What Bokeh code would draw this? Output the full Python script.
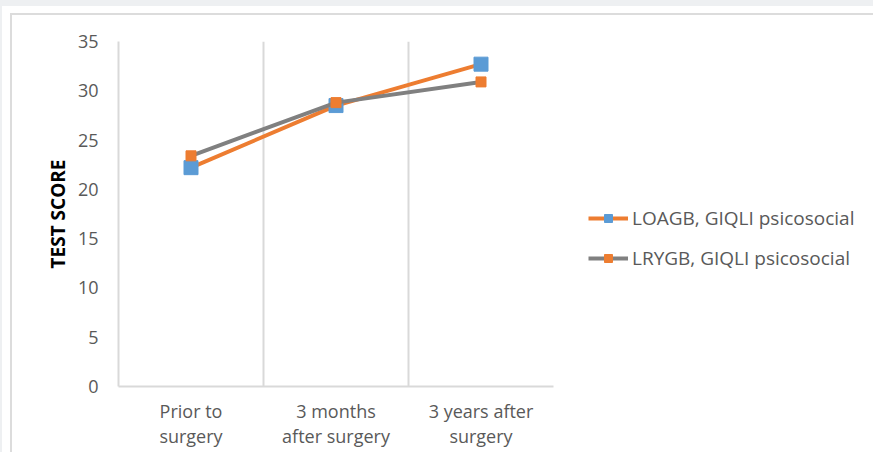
from bokeh.plotting import figure
from bokeh.models import FixedTicker, Legend, LegendItem
from bokeh.layouts import column
from bokeh.embed import file_html
from bokeh.resources import INLINE

# Time points and their wrapped axis labels
categories = ["Prior to surgery", "3 months after surgery", "3 years after surgery"]
tick_labels = ["Prior to\nsurgery", "3 months\nafter surgery", "3 years after\nsurgery"]

# GIQLI psychosocial scores per group
series_names = ["LOAGB, GIQLI psicosocial", "LRYGB, GIQLI psicosocial"]
loagb = [22.2, 28.5, 32.7]
lrygb = [23.4, 28.8, 30.9]

y_ticks = [0, 5, 10, 15, 20, 25, 30, 35]

ORANGE = "#ed7d31"
BLUE = "#5b9bd5"
GRAY = "#808080"
TEXT = "#595959"
RULE = "#d9d9d9"

# each category occupies one unit; points sit in the middle of it
x = [i + 0.5 for i in range(len(categories))]
bounds = list(range(len(categories) + 1))

p = figure(
    frame_width=435, frame_height=345,
    x_range=(0, len(categories)), y_range=(0, 35),
    output_backend="svg", toolbar_location=None,
    min_border_left=106, min_border_right=0,
    min_border_top=26, min_border_bottom=66,
    background_fill_color="white", border_fill_color="white",
)
p.outline_line_color = None

# category axis
p.xaxis.ticker = FixedTicker(ticks=x)
p.xaxis.major_label_overrides = {xi: lbl for xi, lbl in zip(x, tick_labels)}
p.xaxis.major_tick_line_color = None
p.xaxis.minor_tick_line_color = None
p.xaxis.axis_line_color = RULE
p.xaxis.axis_line_width = 2
p.xaxis.major_label_text_font = "Open Sans"
p.xaxis.major_label_text_font_size = "18px"
p.xaxis.major_label_text_color = TEXT
p.xaxis.major_label_text_line_height = 1.05
p.xaxis.major_label_standoff = 6

# value axis
p.yaxis.ticker = FixedTicker(ticks=y_ticks)
p.yaxis.major_tick_line_color = None
p.yaxis.minor_tick_line_color = None
p.yaxis.axis_line_color = RULE
p.yaxis.axis_line_width = 2
p.yaxis.major_label_text_font = "Open Sans"
p.yaxis.major_label_text_font_size = "18px"
p.yaxis.major_label_text_color = TEXT
p.yaxis.major_label_standoff = 14
p.yaxis.axis_label = "TEST SCORE"
p.yaxis.axis_label_text_font = "Open Sans"
p.yaxis.axis_label_text_font_style = "bold"
p.yaxis.axis_label_text_font_size = "19px"
p.yaxis.axis_label_text_color = "black"
p.yaxis.axis_label_standoff = 4

# vertical separators between categories only
p.xgrid.ticker = FixedTicker(ticks=bounds)
p.xgrid.grid_line_color = RULE
p.xgrid.grid_line_width = 2
p.ygrid.grid_line_color = None

l1 = p.line(x, loagb, line_color=ORANGE, line_width=4)
m1 = p.scatter(x, loagb, marker="square", size=14, fill_color=BLUE, line_color=BLUE)
l2 = p.line(x, lrygb, line_color=GRAY, line_width=4)
m2 = p.scatter(x, lrygb, marker="square", size=10, fill_color=ORANGE, line_color=ORANGE)

legend = Legend(
    items=[
        LegendItem(label=series_names[0], renderers=[l1, m1]),
        LegendItem(label=series_names[1], renderers=[l2, m2]),
    ],
    location=(35, 115),
    glyph_width=40, glyph_height=20,
    label_standoff=4, spacing=14, padding=0, margin=0,
    border_line_color=None, background_fill_alpha=0,
    label_text_font="Open Sans", label_text_font_size="19px",
    label_text_color=TEXT,
)
p.add_layout(legend, "right")

framed = column(p, styles={"border-top": "2px solid #dcdcdc", "border-left": "2px solid #dcdcdc"})
page = column(framed, styles={"background-color": "white", "padding": "7px 0 0 8px"})
outer = column(page, styles={"background-color": "#eef0f2", "padding": "6px 0 0 2px"})

open("out.html", "w").write(file_html(outer, INLINE))
